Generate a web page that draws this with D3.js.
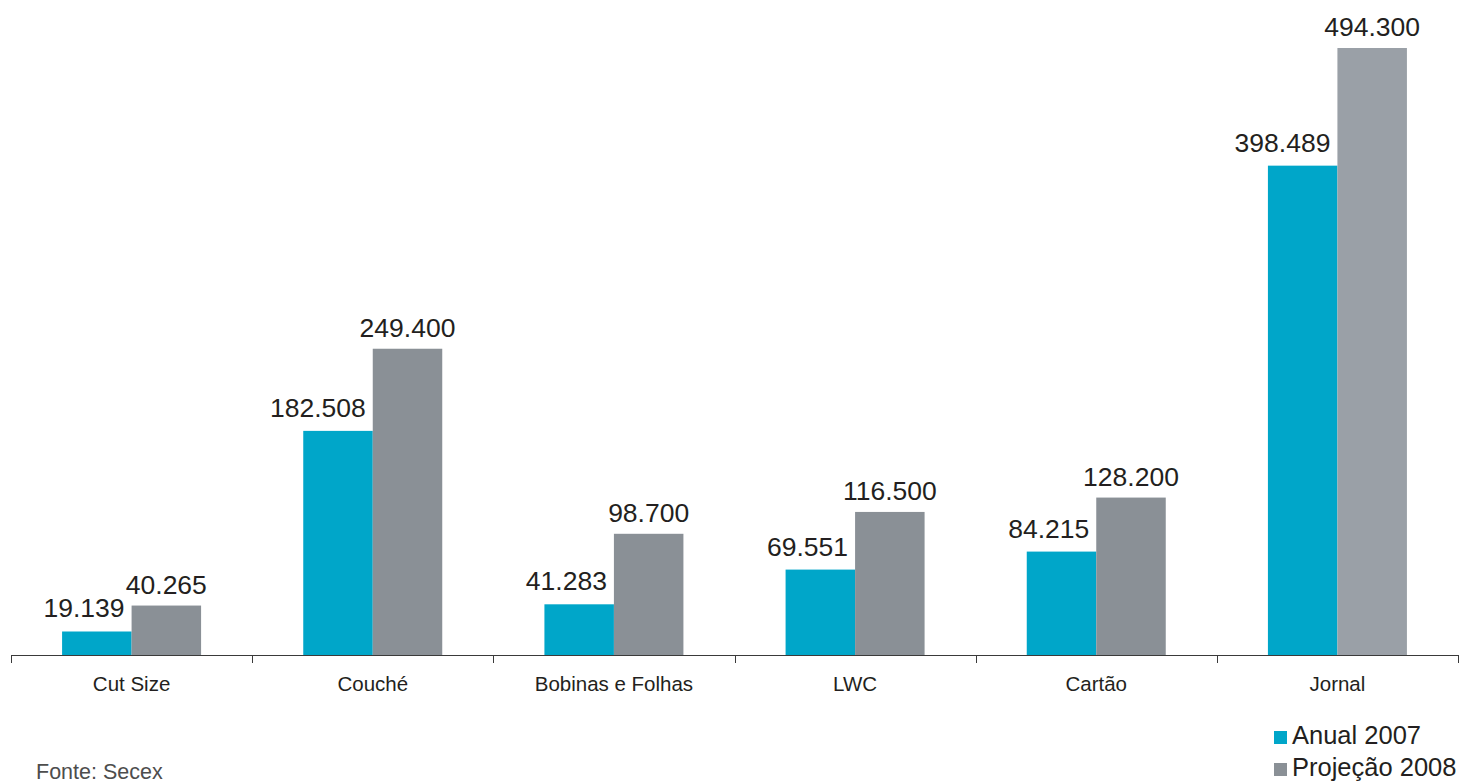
<!DOCTYPE html>
<html>
<head>
<meta charset="utf-8">
<script src="https://cdn.jsdelivr.net/npm/d3@7"></script>
<style>
  html, body { margin: 0; padding: 0; background: #fff; }
  svg { display: block; font-family: "Liberation Sans", Arial, sans-serif; }
</style>
</head>
<body>
<svg id="chart" width="1466" height="783"></svg>
<script>
// Paper sales by grade (tonnes)
const categories = ["Cut Size", "Couché", "Bobinas e Folhas", "LWC", "Cartão", "Jornal"];
const seriesNames = ["Anual 2007", "Projeção 2008"];
const anual2007 = [19139, 182508, 41283, 69551, 84215, 398489];
const projecao2008 = [40265, 249400, 98700, 116500, 128200, 494300];
const sourceNote = "Fonte: Secex";

const seriesColors = ["#00a6c9", "#8a9096"];
const lastGray = "#9aa0a7";

const svg = d3.select("#chart");
const baseY = 655;

const locale = d3.formatLocale({ decimal: ",", thousands: ".", grouping: [3], currency: ["", ""] });
const fmt = locale.format(",d");

const x0 = d3.scaleBand().domain(categories).range([11, 1458]).padding(0);
const x1 = d3.scaleBand().domain(seriesNames).range([0, x0.bandwidth()]).paddingInner(0).paddingOuter(0.735);
const y = d3.scaleLinear().domain([0, 500000]).range([baseY, baseY - 607 * 500000 / 494300]);

const rows = categories.map((c, i) => ({ cat: c, i, vals: [anual2007[i], projecao2008[i]] }));

const groups = svg.selectAll("g.cat").data(rows).join("g")
  .attr("class", "cat")
  .attr("transform", d => `translate(${x0(d.cat)},0)`);

groups.selectAll("rect").data(d => d.vals.map((v, s) => ({ v, s, i: d.i }))).join("rect")
  .attr("x", d => x1(seriesNames[d.s]))
  .attr("width", x1.bandwidth())
  .attr("y", d => y(d.v))
  .attr("height", d => baseY - y(d.v))
  .attr("fill", d => (d.s === 1 && d.i === categories.length - 1) ? lastGray : seriesColors[d.s]);

groups.selectAll("text.val").data(d => d.vals.map((v, s) => ({ v, s }))).join("text")
  .attr("class", "val")
  .attr("x", d => d.s === 0 ? x1(seriesNames[0]) + x1.bandwidth() - 7 : x1(seriesNames[1]) + x1.bandwidth() / 2)
  .attr("y", d => y(d.v) - (d.s === 0 ? 14 : 12))
  .attr("text-anchor", d => d.s === 0 ? "end" : "middle")
  .attr("font-size", 26.5)
  .attr("fill", "#231f20")
  .text(d => fmt(d.v));

// Category axis
const axis = d3.axisBottom(x0).tickSize(0).tickPadding(0);
const axisG = svg.append("g").attr("transform", `translate(0,${baseY})`).call(axis);
axisG.select(".domain").remove();
axisG.selectAll(".tick text")
  .attr("y", 36)
  .attr("dy", 0)
  .attr("font-size", 20.5)
  .attr("font-family", "Liberation Sans, Arial, sans-serif")
  .attr("fill", "#231f20");

svg.append("line")
  .attr("x1", 11).attr("x2", 1458)
  .attr("y1", baseY + 0.5).attr("y2", baseY + 0.5)
  .attr("stroke", "#3a3a3a").attr("stroke-width", 1);

const boundaries = categories.map(c => x0(c)).concat([x0.range()[1]]);
svg.selectAll("line.tick").data(boundaries).join("line")
  .attr("class", "tick")
  .attr("x1", d => Math.round(d) + 0.5).attr("x2", d => Math.round(d) + 0.5)
  .attr("y1", baseY).attr("y2", baseY + 8)
  .attr("stroke", "#3a3a3a").attr("stroke-width", 1);

// Legend
const legend = svg.append("g").attr("transform", "translate(1274,744)");
const items = legend.selectAll("g").data(seriesNames).join("g")
  .attr("transform", (d, i) => `translate(0,${i * 32})`);
items.append("rect").attr("x", 0).attr("y", -13).attr("width", 13).attr("height", 13)
  .attr("fill", (d, i) => seriesColors[i]);
items.append("text").attr("x", 18).attr("y", 0).attr("font-size", 25.5).attr("fill", "#231f20").text(d => d);

// Source note
svg.append("text").attr("x", 36).attr("y", 779).attr("font-size", 21.5).attr("fill", "#4d4d4d").text(sourceNote);
</script>
</body>
</html>
